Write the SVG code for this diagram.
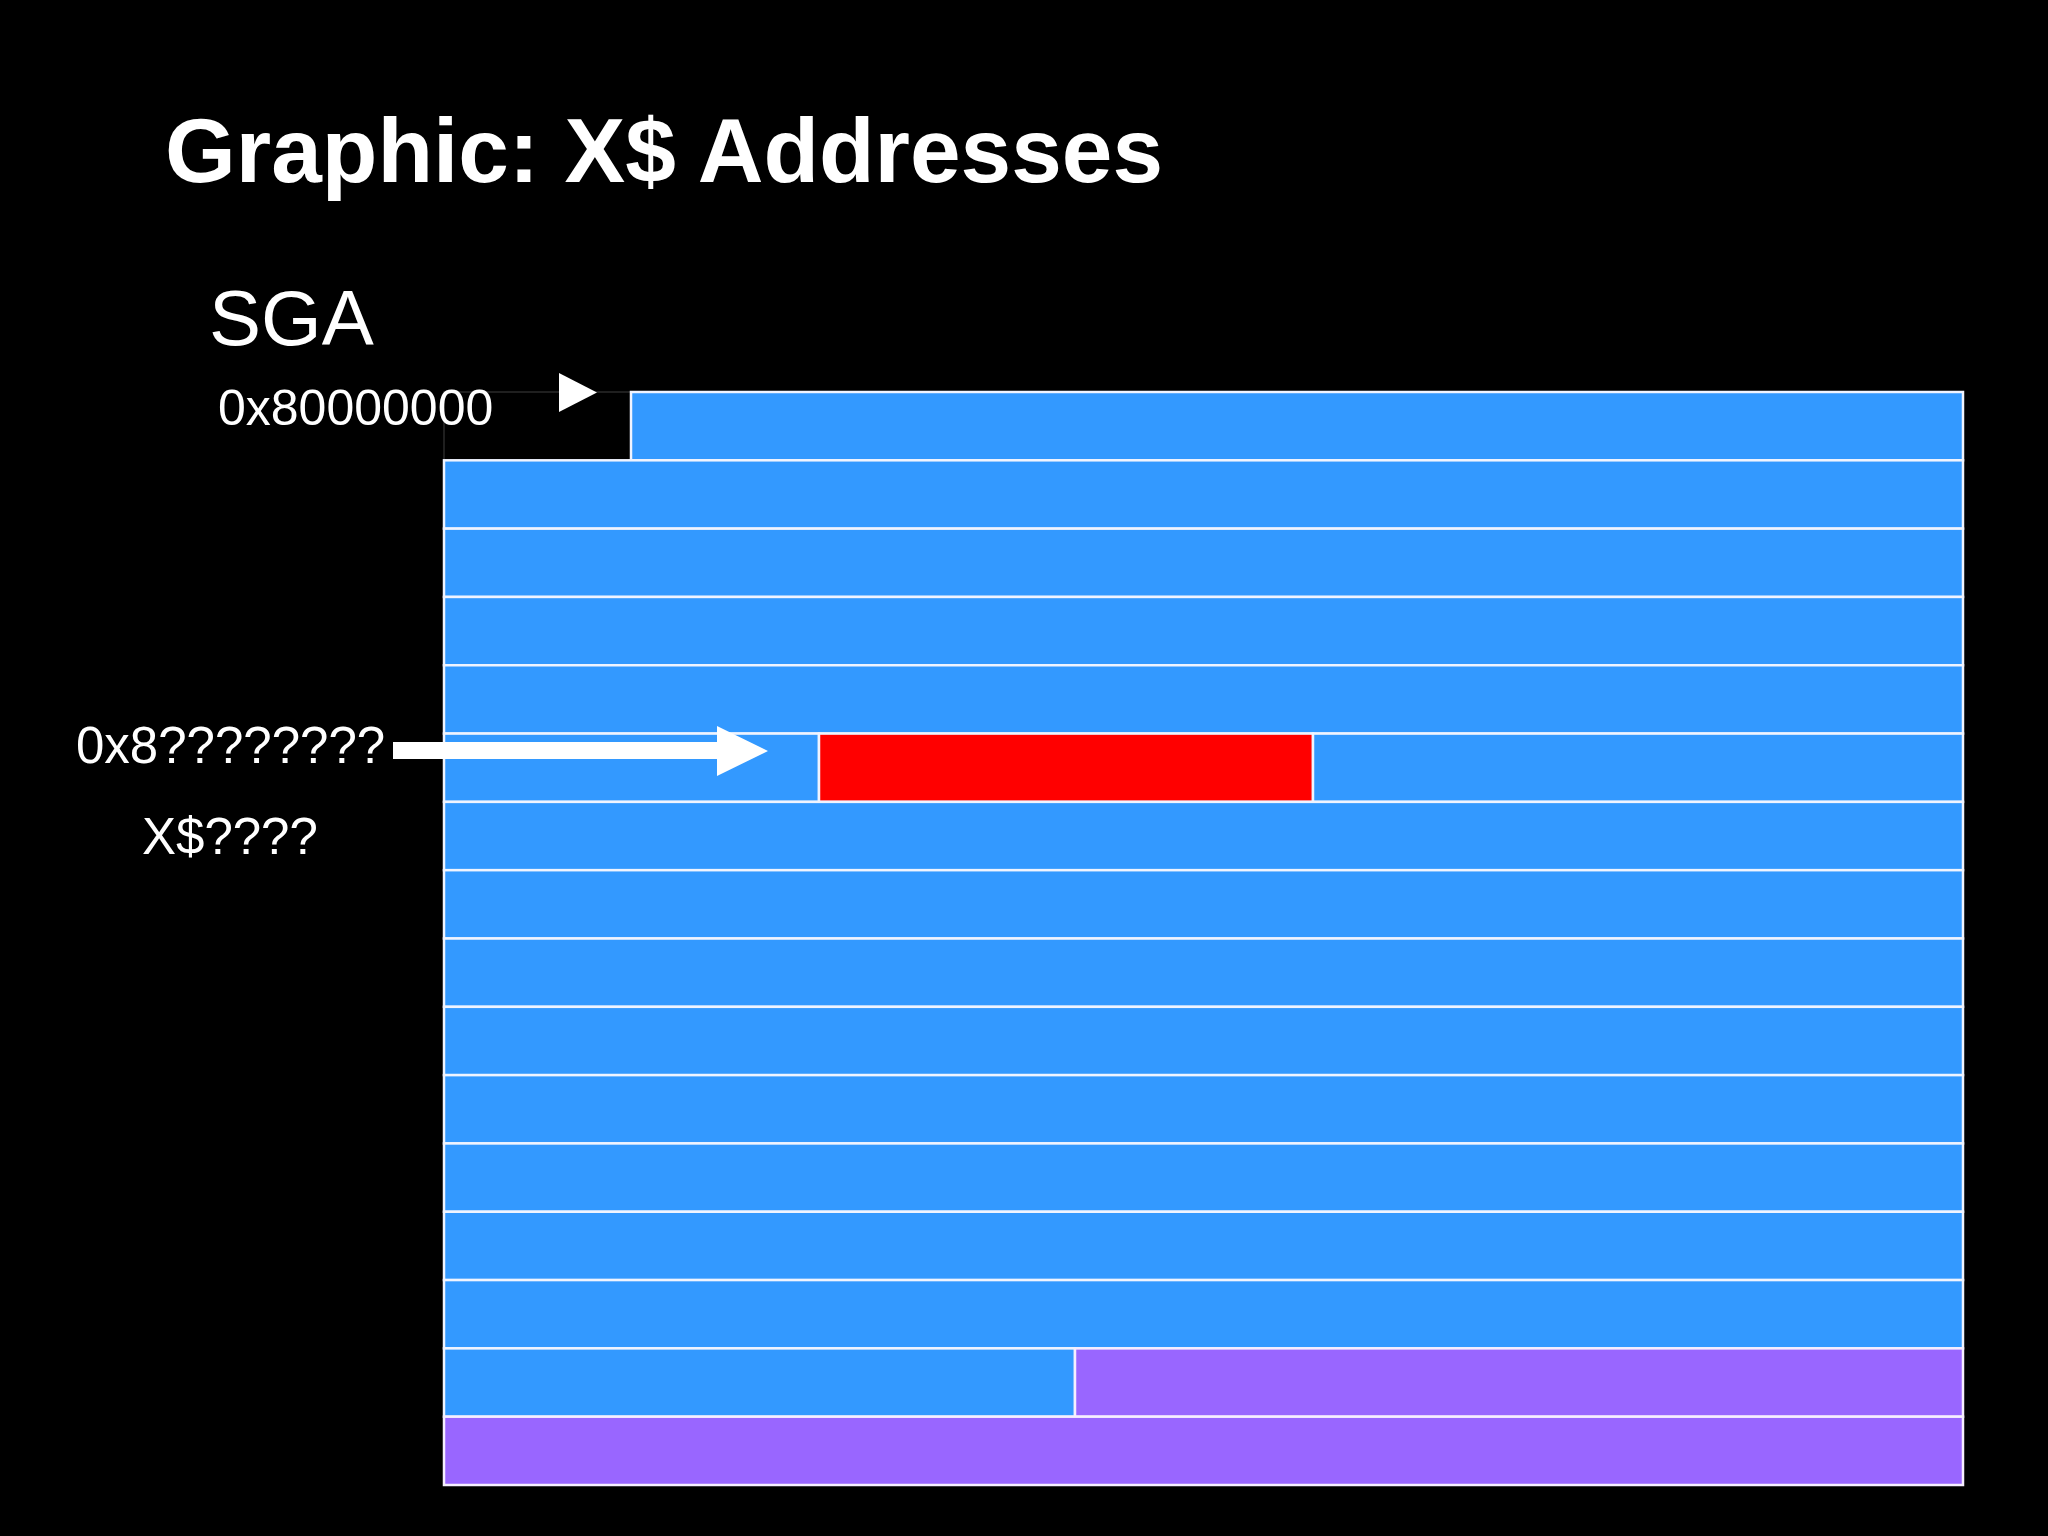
<svg xmlns="http://www.w3.org/2000/svg" width="2048" height="1536" viewBox="0 0 2048 1536">
<style>
.blk{fill:#3399FF;stroke:#F0F4FF;stroke-width:2.5}
.red{fill:#FF0000;stroke:#F0F4FF;stroke-width:2.5}
.pur{fill:#9966FF;stroke:#F6EEFF;stroke-width:2.5}
.blank{fill:#000000;stroke:#2a2a2a;stroke-width:1.5}
.t{font-family:"Liberation Sans",Arial,sans-serif;fill:#FFFFFF}
.ar{fill:#FFFFFF}
</style>
<rect x="0" y="0" width="2048" height="1536" fill="#000000"/>
<g id="sga-rows">
<g id="row0"><rect class="blank" x="444" y="392" width="187" height="68.31"/><rect class="blk" x="631" y="392" width="1332" height="68.31"/></g>
<g id="row1"><rect class="blk" x="444" y="460.31" width="1519" height="68.31"/></g>
<g id="row2"><rect class="blk" x="444" y="528.63" width="1519" height="68.31"/></g>
<g id="row3"><rect class="blk" x="444" y="596.94" width="1519" height="68.31"/></g>
<g id="row4"><rect class="blk" x="444" y="665.25" width="1519" height="68.31"/></g>
<g id="row5"><rect class="blk" x="444" y="733.56" width="375" height="68.31"/><rect class="red" x="819" y="733.56" width="494" height="68.31"/><rect class="blk" x="1313" y="733.56" width="650" height="68.31"/></g>
<g id="row6"><rect class="blk" x="444" y="801.88" width="1519" height="68.31"/></g>
<g id="row7"><rect class="blk" x="444" y="870.19" width="1519" height="68.31"/></g>
<g id="row8"><rect class="blk" x="444" y="938.5" width="1519" height="68.31"/></g>
<g id="row9"><rect class="blk" x="444" y="1006.81" width="1519" height="68.31"/></g>
<g id="row10"><rect class="blk" x="444" y="1075.13" width="1519" height="68.31"/></g>
<g id="row11"><rect class="blk" x="444" y="1143.44" width="1519" height="68.31"/></g>
<g id="row12"><rect class="blk" x="444" y="1211.75" width="1519" height="68.31"/></g>
<g id="row13"><rect class="blk" x="444" y="1280.06" width="1519" height="68.31"/></g>
<g id="row14"><rect class="blk" x="444" y="1348.38" width="631" height="68.31"/><rect class="pur" x="1075" y="1348.38" width="888" height="68.31"/></g>
<g id="row15"><rect class="pur" x="444" y="1416.69" width="1519" height="68.31"/></g>
</g>
<g id="title"><text class="t" x="165" y="182" font-size="91" font-weight="bold">Graphic: X$ Addresses</text></g>
<g id="sga-label"><text class="t" x="209" y="345" font-size="78">SGA</text></g>
<g id="addr-start-label"><text class="t" x="218" y="425" font-size="50">0x80000000</text></g>
<g id="addr-query-label"><text class="t" x="76" y="763" font-size="51">0x8????????</text></g>
<g id="xdollar-label"><text class="t" x="142" y="854" font-size="51">X$????</text></g>
<g id="connectors">
<polygon class="ar" points="559,373 597,392.5 559,412"/>
<polygon class="ar" points="393,742 717,742 717,726 768,751 717,776 717,759 393,759"/>
</g>
</svg>
